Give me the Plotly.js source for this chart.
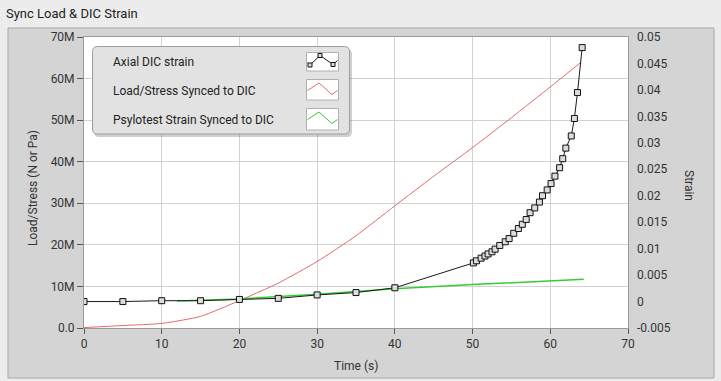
<!DOCTYPE html>
<html>
<head>
<meta charset="utf-8">
<script src="https://cdn.plot.ly/plotly-3.0.1.min.js"></script>
<style>
  html, body { margin: 0; padding: 0; background: #ececec; }
  #chart { width: 721px; height: 381px; }
</style>
</head>
<body>
<div id="chart"></div>
<script>
// ---- Data ----
const dicTime = [0, 5, 10, 15, 20, 25, 30, 35, 40,
  50.1, 50.5, 51.1, 51.6, 52.0, 52.5, 52.9, 53.5, 54.2, 54.7, 55.3, 55.9, 56.4, 56.9,
  57.4, 58.0, 58.6, 59.0, 59.6, 60.1, 60.6, 61.2, 61.6, 62.0, 62.7, 63.1, 63.5, 64.1];
const dicStrain = [0.0, 0.0, 0.00016, 0.00016, 0.0004, 0.0006, 0.00125, 0.0017, 0.0026,
  0.0073, 0.0077, 0.0082, 0.0086, 0.0090, 0.0094, 0.0099, 0.0106, 0.0113, 0.0119, 0.0129, 0.0138, 0.0146, 0.0155,
  0.0168, 0.0177, 0.0188, 0.0200, 0.0211, 0.0223, 0.0237, 0.0253, 0.0270, 0.0290, 0.0313, 0.0346, 0.0395, 0.0480];

const loadTime = [0, 5, 10, 15, 20, 25, 30, 35, 40, 45, 50, 55, 60, 64];
const loadValue = [0.1e6, 0.6e6, 1.1e6, 2.8e6, 6.6e6, 10.8e6, 16.0e6, 22.2e6, 29.4e6, 36.5e6, 43.4e6, 50.6e6, 58.0e6, 64.0e6];

const psyTime = [12, 20, 30, 40, 50, 60, 64.3];
const psyStrain = [0.0001, 0.0005, 0.0014, 0.0024, 0.0032, 0.0039, 0.0042];

const seriesNames = ["Axial DIC strain", "Load/Stress Synced to DIC", "Psylotest Strain Synced to DIC"];

const xTicks = [0, 10, 20, 30, 40, 50, 60, 70];
const loadTickVals = [0, 10e6, 20e6, 30e6, 40e6, 50e6, 60e6, 70e6];
const loadTickText = ["0.0", "10M", "20M", "30M", "40M", "50M", "60M", "70M"];
const strainTickVals = [-0.005, 0, 0.005, 0.01, 0.015, 0.02, 0.025, 0.03, 0.035, 0.04, 0.045, 0.05];
const strainTickText = ["-0.005", "0", "0.005", "0.01", "0.015", "0.02", "0.025", "0.03", "0.035", "0.04", "0.045", "0.05"];

// ---- Layout geometry (pixels) ----
const W = 721, H = 381;
const L = 84, R = 628, T = 37, B = 328;
const px2x = p => (p - L) / (R - L);
const py2y = p => (B - p) / (B - T);
const FONT = "Roboto, 'Liberation Sans', sans-serif";

const traces = [
  { x: loadTime, y: loadValue, name: seriesNames[1], type: "scatter", mode: "lines",
    line: { color: "#e46a6c", width: 1, shape: "spline", smoothing: 0.6 }, yaxis: "y", hoverinfo: "skip" },
  { x: psyTime, y: psyStrain, name: seriesNames[2], type: "scatter", mode: "lines",
    line: { color: "#33cc33", width: 1.5 }, yaxis: "y2", hoverinfo: "skip" },
  { x: dicTime, y: dicStrain, name: seriesNames[0], type: "scatter", mode: "lines+markers",
    line: { color: "#1a1a1a", width: 1 },
    marker: { symbol: "square", size: 6, color: "#dcdcdc", line: { color: "#111", width: 1 } },
    yaxis: "y2", hoverinfo: "skip" }
];

const shapes = [];
const annotations = [];

// outer frame
shapes.push({ type: "rect", xref: "paper", yref: "paper", layer: "below",
  x0: px2x(8), x1: px2x(714), y0: py2y(378), y1: py2y(28),
  fillcolor: "#d4d4d4", line: { color: "#a8a8a8", width: 1 } });
// plot area white background
shapes.push({ type: "rect", xref: "paper", yref: "paper", layer: "below",
  x0: 0, x1: 1, y0: 0, y1: 1, fillcolor: "#ffffff", line: { width: 0 } });

function roundRect(x0p, y0p, x1p, y1p, r) {
  const a = px2x(x0p), b = px2x(x1p), c = py2y(y0p), d = py2y(y1p);
  const rx = r / (R - L), ry = r / (B - T);
  return `M ${a + rx},${c} L ${b - rx},${c} Q ${b},${c} ${b},${c - ry} L ${b},${d + ry} Q ${b},${d} ${b - rx},${d} ` +
         `L ${a + rx},${d} Q ${a},${d} ${a},${d + ry} L ${a},${c - ry} Q ${a},${c} ${a + rx},${c} Z`;
}
// legend shadow + box
shapes.push({ type: "path", xref: "paper", yref: "paper", path: roundRect(94, 49, 352, 137, 5),
  fillcolor: "rgba(120,120,120,0.35)", line: { width: 0 } });
shapes.push({ type: "path", xref: "paper", yref: "paper", path: roundRect(92.5, 46.5, 349.5, 134, 5),
  fillcolor: "#e2e2e2", line: { color: "#9c9c9c", width: 1 } });

const legendRows = [
  { text: seriesNames[0], cy: 61.5, box: [52.5, 71] },
  { text: seriesNames[1], cy: 90.5, box: [79.5, 100] },
  { text: seriesNames[2], cy: 119.5, box: [108.5, 130] }
];
const bx0 = 306.5, bx1 = 338.5;
legendRows.forEach((row, i) => {
  annotations.push({ xref: "paper", yref: "paper", x: px2x(111), y: py2y(row.cy),
    xanchor: "left", yanchor: "middle", showarrow: false, text: row.text,
    font: { family: FONT, size: 12, color: "#222" } });
  shapes.push({ type: "rect", xref: "paper", yref: "paper",
    x0: px2x(bx0), x1: px2x(bx1), y0: py2y(row.box[1]), y1: py2y(row.box[0]),
    fillcolor: "#ffffff", line: { color: "#b0b0b0", width: 1 } });
  const by = row.box[0];
  const P = (dx, dy) => `${px2x(bx0 + dx)},${py2y(by + dy)}`;
  if (i === 0) {
    shapes.push({ type: "path", xref: "paper", yref: "paper",
      path: `M ${P(1, 10)} L ${P(3.5, 12.5)} L ${P(13.5, 3)} L ${P(26.5, 12)} L ${P(31, 8)}`,
      line: { color: "#1a1a1a", width: 1 } });
    [[3.5, 12.5], [13.5, 3], [26.5, 12]].forEach(([dx, dy]) => {
      shapes.push({ type: "rect", xref: "paper", yref: "paper",
        x0: px2x(bx0 + dx - 2), x1: px2x(bx0 + dx + 2),
        y0: py2y(by + dy + 2), y1: py2y(by + dy - 2),
        fillcolor: "#dcdcdc", line: { color: "#111", width: 1 } });
    });
  } else {
    const col = i === 1 ? "#e46a6c" : "#33cc33";
    shapes.push({ type: "path", xref: "paper", yref: "paper",
      path: `M ${P(1, 11)} L ${P(12.5, 3.5)} L ${P(25.5, 15)} L ${P(31, 11)}`,
      line: { color: col, width: 1 } });
  }
});

// axis titles
annotations.push({ xref: "paper", yref: "paper", x: px2x(33), y: py2y(188), textangle: -90,
  showarrow: false, text: "Load/Stress (N or Pa)", xanchor: "center", yanchor: "middle",
  font: { family: FONT, size: 12, color: "#333" } });
annotations.push({ xref: "paper", yref: "paper", x: px2x(689), y: py2y(185), textangle: 90,
  showarrow: false, text: "Strain", xanchor: "center", yanchor: "middle",
  font: { family: FONT, size: 12, color: "#333" } });
annotations.push({ xref: "paper", yref: "paper", x: px2x(356), y: py2y(366),
  showarrow: false, text: "Time (s)", xanchor: "center", yanchor: "middle",
  font: { family: FONT, size: 12, color: "#333" } });

const layout = {
  width: W, height: H,
  margin: { l: L, r: W - R, t: T, b: H - B, pad: 0 },
  paper_bgcolor: "#ececec",
  plot_bgcolor: "rgba(0,0,0,0)",
  showlegend: false,
  title: { text: "Sync Load & DIC Strain", xref: "container", yref: "container",
    x: 6 / W, xanchor: "left", y: 1 - 13 / H, yanchor: "middle",
    font: { family: FONT, size: 13, color: "#222" } },
  font: { family: FONT, size: 12, color: "#333" },
  xaxis: {
    range: [0, 70], tickvals: xTicks, ticktext: xTicks.map(String),
    showgrid: true, gridcolor: "#d2d2d2", gridwidth: 1, zeroline: false,
    ticks: "outside", ticklen: 5, tickcolor: "#555", tickwidth: 1,
    showline: true, linecolor: "#9a9a9a", linewidth: 1, mirror: true,
    tickfont: { family: FONT, size: 12, color: "#333" }, fixedrange: true
  },
  yaxis: {
    range: [0, 70e6], tickvals: loadTickVals, ticktext: loadTickText,
    showgrid: true, gridcolor: "#d2d2d2", gridwidth: 1, zeroline: false,
    ticks: "outside", ticklen: 6, tickcolor: "#555", tickwidth: 1,
    showline: true, linecolor: "#9a9a9a", linewidth: 1, mirror: true,
    tickfont: { family: FONT, size: 12, color: "#333" }, fixedrange: true
  },
  yaxis2: {
    range: [-0.005, 0.05], overlaying: "y", side: "right",
    tickvals: strainTickVals, ticktext: strainTickText,
    showgrid: false, zeroline: false, ticks: "", ticklabelstandoff: 8,
    tickfont: { family: FONT, size: 12, color: "#333" }, fixedrange: true
  },
  shapes: shapes,
  annotations: annotations
};

Plotly.newPlot("chart", traces, layout, { staticPlot: true, displayModeBar: false });
</script>
</body>
</html>
